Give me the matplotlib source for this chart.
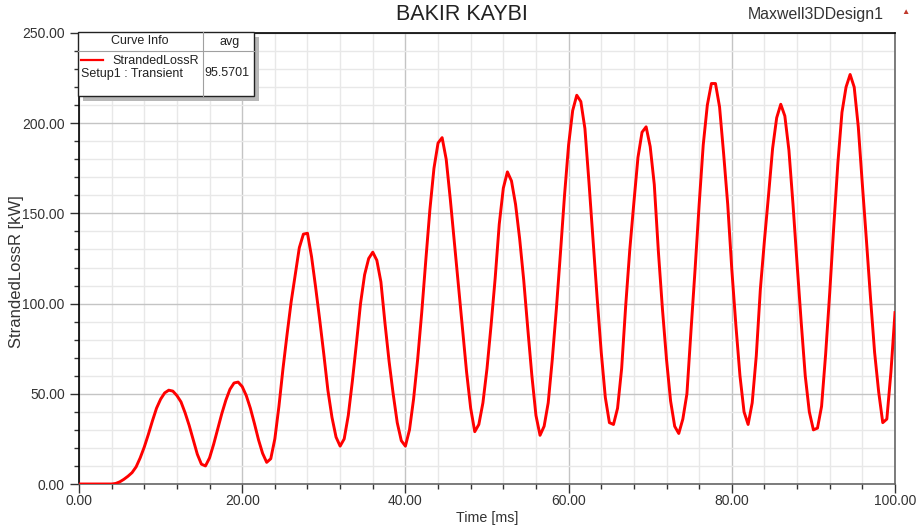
import numpy as np
import matplotlib
matplotlib.use("Agg")
import matplotlib.pyplot as plt
from matplotlib.patches import Rectangle
from matplotlib.lines import Line2D
from matplotlib.ticker import MultipleLocator, FormatStrFormatter

plt.rcParams['font.family'] = ['Liberation Sans', 'DejaVu Sans']

# ---- data (time step 0.5 ms) ----
t_ms = np.arange(0, 100.5, 0.5)
loss_kw = [
    0, 0, 0, 0, 0, 0, 0, 0, 0, 0.3,                     # 0.0 - 4.5
    1.2, 2.6, 4.3, 6.3, 9.5, 14.5, 20.5, 27.5, 35, 42,  # 5.0 - 9.5
    47, 50.5, 52, 51.5, 49, 45.5, 39.5, 32.5, 24.5, 16.5,
    11, 10, 14.5, 22, 30.5, 39, 46.5, 52.5, 56, 56.5,
    54, 49, 42, 33.5, 24.5, 17, 12, 14, 25, 43,
    64, 83, 101, 116, 131, 138.5, 139, 126, 109, 91,
    72, 52, 37, 26, 21, 25, 38, 57, 78, 100,
    116, 125, 128.5, 124, 112, 89, 68, 50, 34, 24,
    21, 30, 47, 69, 95, 124, 152, 175, 189, 192,
    180, 158, 134, 110, 86, 62, 42, 29, 33, 45,
    64, 88, 114, 144, 164, 173, 168, 155, 136, 113,
    86, 60, 38, 27, 32, 45, 69, 97, 128, 160,
    188, 207, 215.5, 212, 197, 167, 135, 103, 73, 48,
    34, 33, 42, 64, 99, 130, 156, 181, 195, 198,
    187, 166, 129, 97, 69, 46, 32, 28, 36, 50,
    85, 119, 155, 188, 210, 222, 222, 209, 183, 155,
    119, 88, 60, 40, 33, 45, 71, 108, 135, 160,
    186, 203, 210.5, 204, 185, 155, 122, 90, 60, 40,
    30, 31, 43, 72, 106, 143, 178, 206, 220, 227,
    220, 198, 166, 135, 103, 73, 51, 34, 36, 62,
    95,                                                  # 100.0
]

series_name = "StrandedLossR"
setup_name = "Setup1 : Transient"
avg_value = "95.5701"

W, H = 918, 528
fig = plt.figure(figsize=(W / 100, H / 100), dpi=100, facecolor='white')
ax = fig.add_axes([79 / W, 1 - 484 / H, (895 - 79) / W, (484 - 33) / H])

ax.plot(t_ms, loss_kw, color='#ff0000', lw=2.1, zorder=3)

ax.set_xlim(0, 100)
ax.set_ylim(0, 250)
ax.xaxis.set_major_locator(MultipleLocator(20))
ax.xaxis.set_minor_locator(MultipleLocator(4))
ax.yaxis.set_major_locator(MultipleLocator(50))
ax.yaxis.set_minor_locator(MultipleLocator(10))
ax.xaxis.set_major_formatter(FormatStrFormatter('%.2f'))
ax.yaxis.set_major_formatter(FormatStrFormatter('%.2f'))

ax.grid(which='major', color='#c4c4c4', lw=1.0)
ax.grid(which='minor', color='#e8e8e8', lw=1.0)
ax.set_axisbelow(True)

ax.tick_params(which='major', direction='out', length=6.2, width=1, color='#333333',
               labelsize=10, labelcolor='#333333')
ax.tick_params(which='minor', direction='out', length=3.6, width=1, color='#333333')
ax.tick_params(axis='x', which='major', pad=1)
ax.tick_params(axis='y', which='major', pad=4)

for side in ['left', 'top']:
    ax.spines[side].set_color('black')
for side in ['bottom', 'right']:
    ax.spines[side].set_color('#666666')
for s in ax.spines.values():
    s.set_linewidth(1.2)

ax.set_xlabel('Time [ms]', fontsize=10.3, color='#333333', labelpad=2)
ax.set_ylabel('StrandedLossR [kW]', fontsize=12, color='#333333')
ax.yaxis.set_label_coords((24 - 79) / 816, (484 - 271.5) / 451)

# titles
fig.text(462 / W, 1 - 14 / H, 'BAKIR KAYBI', ha='center', va='center',
         fontsize=15.5, color='#222222')
fig.text(884 / W, 1 - 15 / H, 'Maxwell3DDesign1', ha='right', va='center',
         fontsize=11.4, color='#333333')
fig.text(905 / W, 1 - 13 / H, '\u25b2', ha='center', va='center',
         fontsize=6, color='#c0392b')


# legend table drawn in pixel coordinates
def fx(x):
    return x / W


def fy(y):
    return 1 - y / H


L, R, T, B = 77.5, 253.5, 31.5, 95.5
fig.add_artist(Rectangle((fx(L + 5), fy(B + 5)), (R - L) / W, (B - T) / H,
                         transform=fig.transFigure, facecolor='#b8b8b8',
                         edgecolor='none', zorder=5))
fig.add_artist(Rectangle((fx(L), fy(B)), (R - L) / W, (B - T) / H,
                         transform=fig.transFigure, facecolor='white',
                         edgecolor='#222222', lw=1.0, zorder=6))
fig.add_artist(Line2D([fx(L), fx(R)], [fy(50.5), fy(50.5)], transform=fig.transFigure,
                      color='#a0a0a0', lw=0.8, zorder=7))
fig.add_artist(Line2D([fx(202.5), fx(202.5)], [fy(T), fy(B)], transform=fig.transFigure,
                      color='#a0a0a0', lw=0.8, zorder=7))
fig.add_artist(Line2D([fx(81), fx(103)], [fy(60), fy(60)], transform=fig.transFigure,
                      color='#ff0000', lw=1.6, zorder=7))
fs = 9
fig.text(fx(139.5), fy(41.5), 'Curve Info', ha='center', va='center', fontsize=fs,
         color='#222222', zorder=8)
fig.text(fx(229.5), fy(41.5), 'avg', ha='center', va='center', fontsize=fs,
         color='#222222', zorder=8)
fig.text(fx(112.5), fy(60.5), series_name, ha='left', va='center', fontsize=fs,
         color='#222222', zorder=8)
fig.text(fx(81), fy(73.5), setup_name, ha='left', va='center', fontsize=fs,
         color='#222222', zorder=8)
fig.text(fx(204.5), fy(73.5), avg_value, ha='left', va='center', fontsize=fs,
         color='#222222', zorder=8)

fig.savefig('out.png', dpi=100, facecolor='white')
